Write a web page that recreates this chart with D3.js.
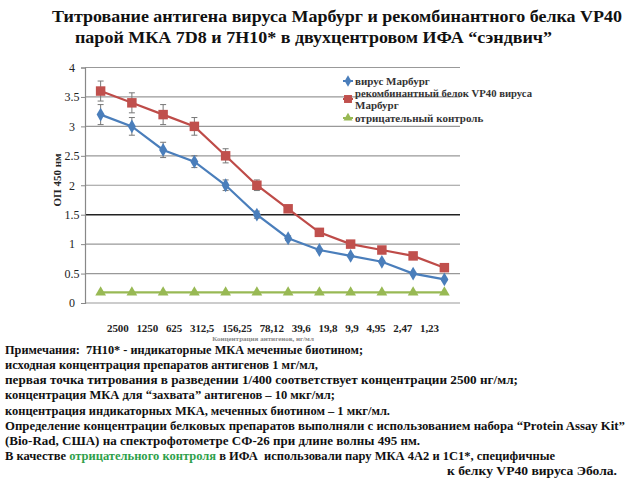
<!DOCTYPE html>
<html><head><meta charset="utf-8">
<script src="https://cdn.jsdelivr.net/npm/d3@7"></script>
<style>
body{margin:0;background:#fff;}
svg{display:block;}
svg text{font-family:'Liberation Serif','DejaVu Serif',serif !important;}
</style></head>
<body>
<script>
const categories = ["2500","1250","625","312,5","156,25","78,12","39,6","19,8","9,9","4,95","2,47","1,23"];
const virus = [3.2,3.0,2.6,2.4,2.0,1.5,1.1,0.9,0.8,0.7,0.5,0.4];
const virusErr = [0.17,0.15,0.13,0.1,0.09,0.06,0.04,0.02,0.02,0.02,0.02,0.02];
const recomb = [3.6,3.4,3.2,3.0,2.5,2.0,1.6,1.2,1.0,0.9,0.8,0.6];
const recombErr = [0.17,0.17,0.17,0.15,0.12,0.09,0.05,0.03,0.03,0.02,0.02,0.02];
const control = [0.18,0.18,0.18,0.18,0.18,0.18,0.18,0.18,0.18,0.18,0.18,0.18];
const yTicks = [0,0.5,1,1.5,2,2.5,3,3.5,4];
const seriesNames = ["вирус Марбург","рекомбинантный белок VP40 вируса|Марбург","отрицательный контроль"];
const titleLines = ["Титрование антигена вируса Марбург и рекомбинантного белка VP40","парой МКА 7D8 и 7H10* в двухцентровом ИФА “сэндвич”"];
const yLabel = "ОП 450 нм";
const xLabel = "Концентрация антигенов, нг/мл";
const notes = [
 [["Примечания:  7H10* - индикаторные МКА меченные биотином;",0]],
 [["исходная концентрация препаратов антигенов 1 мг/мл,",0]],
 [["первая точка титрования в разведении 1/400 соответствует концентрации 2500 нг/мл;",0]],
 [["концентрация МКА для “захвата” антигенов – 10 мкг/мл;",0]],
 [["концентрация индикаторных МКА, меченных биотином – 1 мкг/мл.",0]],
 [["Определение концентрации белковых препаратов выполняли с использованием набора “Protein Assay Kit”",0]],
 [["(Bio-Rad, США) на спектрофотометре СФ-26 при длине волны 495 нм.",0]],
 [["В качестве ",0],["отрицательного контроля",1],[" в ИФА  использовали пару МКА 4А2 и 1С1*, специфичные",0]],
 [["к белку VP40 вируса Эбола.",0]]
];
const noteLayout = [[5,363],[5,318],[5,518],[5,335],[5,390],[5,625],[5,420],[5,555],[447,617]];

const FF="Liberation Serif, DejaVu Serif, serif";
const W=640,H=480;
const svg=d3.select("body").append("svg").attr("width",W).attr("height",H).attr("font-family",FF);

// title
const tl=[[52,622,22],[75,552,43]];
titleLines.forEach((t,i)=>{
  svg.append("text").attr("x",tl[i][0]).attr("y",tl[i][2]).attr("font-size",17.5).attr("font-weight","bold")
   .attr("font-family",FF)
   .attr("textLength",tl[i][1]-tl[i][0]).attr("lengthAdjust","spacingAndGlyphs").attr("fill","#111").text(t);
});

const x=d3.scalePoint().domain(categories).range([85,460]).padding(0.5);
const y=d3.scaleLinear().domain([0,4]).range([303,67.5]);

// gridlines
svg.append("g").selectAll("line").data(yTicks).join("line")
 .attr("x1",85).attr("x2",460).attr("y1",d=>y(d)).attr("y2",d=>y(d))
 .attr("stroke",d=>d===1.5?"#222":"#999").attr("stroke-width",d=>d===1.5?1.5:1.2);

// y axis
const ya=svg.append("g").attr("transform","translate(85,0)")
 .call(d3.axisLeft(y).tickValues(yTicks).tickSize(4).tickFormat(d=>String(d)));
ya.attr("font-family",FF);
ya.select(".domain").attr("stroke","#888").attr("stroke-width",1.2);
ya.selectAll(".tick line").attr("stroke","#888");
ya.selectAll(".tick text").attr("font-family",FF).attr("font-size",12)
  .attr("fill","#222").attr("text-anchor","middle").attr("x",-13);

// y label
svg.append("text").attr("transform","translate(61,180) rotate(-90)").attr("text-anchor","middle")
 .attr("font-family",FF).attr("font-size",11).attr("font-weight","bold").attr("fill","#222").text(yLabel);

// error bars
function errBars(vals,errs){
  const g=svg.append("g").attr("stroke","#777").attr("stroke-width",1);
  vals.forEach((v,i)=>{
    const cx=x(categories[i]);
    g.append("line").attr("x1",cx).attr("x2",cx).attr("y1",y(v-errs[i])).attr("y2",y(v+errs[i]));
    g.append("line").attr("x1",cx-3).attr("x2",cx+3).attr("y1",y(v-errs[i])).attr("y2",y(v-errs[i]));
    g.append("line").attr("x1",cx-3).attr("x2",cx+3).attr("y1",y(v+errs[i])).attr("y2",y(v+errs[i]));
  });
}
errBars(virus,virusErr);
errBars(recomb,recombErr);

const line=d3.line().x((d,i)=>x(categories[i])).y(d=>y(d));
const series=[
 {vals:control,color:"#98b954",mark:"#98b954",sym:d3.symbolTriangle,size:50},
 {vals:virus,color:"#4a7ebb",mark:"#4a7ebb",sym:d3.symbolDiamond,size:55},
 {vals:recomb,color:"#be4b48",mark:"#c0504d",sym:d3.symbolSquare,size:90}
];
series.forEach(s=>{
  svg.append("path").datum(s.vals).attr("d",line).attr("fill","none").attr("stroke",s.color).attr("stroke-width",2.2);
  svg.append("g").selectAll("path").data(s.vals).join("path")
   .attr("transform",(d,i)=>`translate(${x(categories[i])},${y(d)})`)
   .attr("d",d3.symbol().type(s.sym).size(s.size)).attr("fill",s.mark);
});

// legend
const lg=svg.append("g");
const legItems=[
 {name:seriesNames[0],s:series[1],y:81},
 {name:seriesNames[1],s:series[2],y:93.5},
 {name:seriesNames[2],s:series[0],y:118}
];
legItems.forEach(it=>{
  const my = it.name.includes("|") ? 99 : it.y;
  lg.append("line").attr("x1",343).attr("x2",353).attr("y1",my).attr("y2",my).attr("stroke",it.s.color).attr("stroke-width",2);
  lg.append("path").attr("transform",`translate(348,${my})`).attr("d",d3.symbol().type(it.s.sym).size(it.s.size*0.7)).attr("fill",it.s.mark);
  const parts=it.name.split("|");
  parts.forEach((p,j)=>{
    const t=lg.append("text").attr("x",355).attr("y",it.y+3.5+j*11.5).attr("font-family",FF).attr("font-size",11).attr("font-weight","bold").attr("fill","#333").text(p);
    if(j===0 && parts.length>1) t.attr("textLength",177).attr("lengthAdjust","spacingAndGlyphs");
  });
});

// x tick labels (text box)
svg.append("text").attr("x",107).attr("y",332).attr("font-family",FF).attr("font-size",11).attr("font-weight","bold").attr("fill","#222")
 .attr("textLength",332).attr("lengthAdjust","spacing").style("white-space","pre").text(categories.join("   "));

// x axis title (mostly hidden behind notes in the reference)
svg.append("text").attr("x",263).attr("y",341).attr("text-anchor","middle").attr("font-family",FF)
 .attr("font-size",7).attr("font-weight","bold").attr("fill","#888").text(xLabel);

// notes
notes.forEach((ln,i)=>{
  const t=svg.append("text").attr("x",noteLayout[i][0]).attr("y",354+i*15.15).attr("font-family",FF).attr("font-size",12).attr("font-weight","bold")
   .attr("fill","#111").attr("textLength",noteLayout[i][1]-noteLayout[i][0]).attr("lengthAdjust","spacingAndGlyphs").style("white-space","pre");
  ln.forEach(p=>t.append("tspan").attr("fill",p[1]?"#2ea04a":"#111").text(p[0]));
});
</script>
</body></html>
